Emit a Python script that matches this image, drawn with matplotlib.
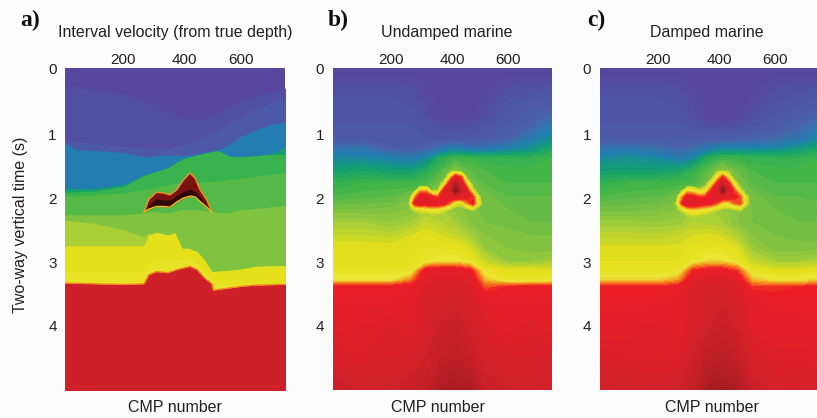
import numpy as np
import matplotlib
matplotlib.use("Agg")
import matplotlib.pyplot as plt
from matplotlib.colors import LinearSegmentedColormap, Normalize

W, H = 817, 418
BG = '#fdfdfe'
plt.rcParams['font.family'] = ['Liberation Sans', 'DejaVu Sans']

# velocity (km/s) -> colour
VEL_NODES = [1.5, 1.55, 1.65, 1.85, 2.1, 2.3, 2.5, 2.65, 2.85, 3.05, 3.2, 3.35, 3.55, 3.9, 4.3, 5.0]
VEL_COLORS = ['#57479f', '#57479f', '#4f52a4', '#4a62ab', '#2080b0', '#12a070', '#3eb54a', '#6cbd45',
              '#a3cd39', '#e5e01a', '#ece638', '#f7941d', '#ed1c24', '#d4212a', '#a81c20', '#3a0808']

# panel a: (cmp picks, time picks, velocity below that horizon), top to bottom
H_CMP = [0, 100, 200, 270, 350, 400, 450, 500, 550, 600, 650, 700, 750]
H1 = [.26, .34, .41, .49, .67, .78, .79, .75, .62, .49, .44, .36, .31]
H2 = [1.11, 1.17, 1.22, 1.24, 1.24, 1.19, 1.11, 1.01, .88, .75, .62, .54, .44]
H3_CMP = [0, 40, 100, 200, 270, 350, 400, 450, 520, 550, 600, 650, 700, 750]
H3 = [1.16, 1.27, 1.28, 1.31, 1.38, 1.35, 1.36, 1.33, 1.27, 1.22, 1.06, .96, .88, .83]
H4_CMP = [0, 100, 200, 270, 350, 400, 450, 520, 560, 600, 650, 700, 750]
H4 = [1.87, 1.87, 1.81, 1.66, 1.55, 1.41, 1.35, 1.28, 1.37, 1.38, 1.36, 1.33, 1.23]
H5 = [1.93, 1.91, 1.84, 1.67, 1.55, 1.41, 1.35, 1.28, 1.37, 1.38, 1.36, 1.34, 1.34]
H6_CMP = [0, 100, 200, 270, 350, 400, 450, 550, 650, 750]
H6 = [1.99, 1.97, 1.94, 1.89, 1.81, 1.78, 1.78, 1.74, 1.68, 1.62]
H7_CMP = [0, 100, 200, 270, 300, 350, 400, 450, 500, 550, 600, 650, 750]
H7 = [2.28, 2.28, 2.28, 2.25, 2.23, 2.25, 2.20, 2.20, 2.23, 2.25, 2.20, 2.18, 2.14]
H8_CMP = [0, 100, 200, 270, 286, 400, 420, 450, 475, 500, 550, 600, 650, 700, 750]
H8 = [2.36, 2.41, 2.51, 2.62, 2.56, 2.80, 2.80, 2.85, 2.98, 3.16, 3.145, 3.12, 3.08, 3.07, 3.07]
H9_CMP = [0, 200, 270, 286, 312, 350, 375, 400, 420, 450, 475, 500, 550, 600, 650, 700, 750]
H9 = [2.76, 2.76, 2.76, 2.59, 2.55, 2.59, 2.56, 2.80, 2.80, 2.85, 2.98, 3.16, 3.145, 3.12, 3.08, 3.07, 3.07]
H10_CMP = [0, 200, 270, 286, 312, 350, 400, 426, 460, 500, 550, 750]
H10 = [3.16, 3.16, 3.145, 3.03, 2.98, 3.0, 2.95, 2.93, 3.08, 3.29, 3.34, 3.34]
H11_CMP = [0, 100, 200, 270, 286, 312, 350, 381, 426, 450, 475, 500, 505, 550, 600, 650, 750]
H11 = [3.34, 3.35, 3.36, 3.35, 3.21, 3.16, 3.18, 3.13, 3.08, 3.13, 3.26, 3.35, 3.45, 3.42, 3.39, 3.37, 3.36]
LAYERS = [(H_CMP, H1, 1.62), (H_CMP, H2, 1.72), (H3_CMP, H3, 2.08), (H4_CMP, H4, 2.3),
          (H4_CMP, H5, 2.48), (H6_CMP, H6, 2.58), (H7_CMP, H7, 2.72), (H8_CMP, H8, 2.87),
          (H9_CMP, H9, 3.05), (H10_CMP, H10, 3.12), (H11_CMP, H11, 3.95)]
TOP_VEL = 1.5

SALT_CMP = [270, 286, 312, 335, 358, 381, 403, 426, 443, 460, 483, 500]
SALT_TOP = [2.24, 2.04, 1.93, 1.94, 1.97, 1.89, 1.74, 1.63, 1.71, 1.89, 2.05, 2.24]
SALT_MID = [2.24, 2.13, 2.03, 2.05, 2.05, 1.98, 1.92, 1.88, 1.92, 2.00, 2.13, 2.24]
SALT_BASE = [2.24, 2.19, 2.15, 2.15, 2.16, 2.08, 2.02, 1.99, 2.00, 2.07, 2.16, 2.24]

# panels b, c: background velocity read at these stations
GRID_CMP = [0, 100, 200, 270, 320, 370, 420, 470, 520, 600, 680, 750]
GRID_T = [0, .3, .6, .75, .9, 1.1, 1.25, 1.4, 1.6, 1.8, 2.0, 2.2, 2.4, 2.6, 2.8, 3.0, 3.15, 3.3, 3.4, 3.6, 4.0, 4.5, 5.0]
VEL_B = [
    [1.5, 1.5, 1.5, 1.5, 1.5, 1.5, 1.5, 1.5, 1.5, 1.5, 1.5, 1.5],
    [1.62, 1.62, 1.62, 1.6, 1.55, 1.5, 1.5, 1.5, 1.52, 1.6, 1.62, 1.65],
    [1.68, 1.68, 1.68, 1.65, 1.6, 1.53, 1.5, 1.5, 1.58, 1.68, 1.75, 1.78],
    [1.7, 1.7, 1.7, 1.68, 1.62, 1.52, 1.5, 1.52, 1.6, 1.72, 1.8, 1.92],
    [1.7, 1.7, 1.7, 1.7, 1.68, 1.62, 1.6, 1.62, 1.68, 1.75, 1.85, 2.05],
    [1.72, 1.72, 1.72, 1.72, 1.7, 1.7, 1.72, 1.72, 1.75, 1.85, 2.05, 2.2],
    [2.0, 2.0, 1.8, 1.8, 1.85, 2.0, 2.1, 2.0, 2.0, 2.1, 2.2, 2.35],
    [2.15, 2.15, 2.1, 2.05, 2.15, 2.4, 2.5, 2.5, 2.45, 2.45, 2.45, 2.5],
    [2.3, 2.35, 2.3, 2.3, 2.4, 2.55, 2.75, 2.6, 2.55, 2.52, 2.52, 2.52],
    [2.45, 2.5, 2.5, 2.5, 2.55, 2.68, 2.8, 2.7, 2.6, 2.55, 2.55, 2.55],
    [2.55, 2.58, 2.6, 2.68, 2.75, 2.8, 2.8, 2.75, 2.68, 2.6, 2.6, 2.6],
    [2.7, 2.7, 2.72, 2.76, 2.85, 2.85, 2.78, 2.72, 2.68, 2.65, 2.62, 2.62],
    [2.85, 2.85, 2.8, 2.85, 2.95, 2.9, 2.85, 2.75, 2.7, 2.68, 2.65, 2.65],
    [2.95, 2.95, 2.92, 3.0, 3.05, 3.0, 2.95, 2.85, 2.75, 2.72, 2.7, 2.7],
    [3.05, 3.05, 3.05, 3.05, 3.1, 3.1, 3.08, 3.02, 2.8, 2.75, 2.72, 2.72],
    [3.08, 3.08, 3.08, 3.08, 3.12, 3.2, 3.2, 3.1, 2.95, 2.8, 2.8, 2.85],
    [3.1, 3.1, 3.1, 3.12, 3.65, 3.7, 3.7, 3.6, 3.12, 3.05, 3.05, 3.05],
    [3.2, 3.2, 3.2, 3.4, 3.75, 3.8, 3.8, 3.75, 3.3, 3.12, 3.12, 3.15],
    [3.6, 3.6, 3.6, 3.65, 3.8, 3.85, 3.85, 3.8, 3.45, 3.55, 3.6, 3.6],
    [3.65, 3.65, 3.65, 3.7, 3.85, 3.9, 3.9, 3.85, 3.7, 3.65, 3.65, 3.65],
    [3.7, 3.75, 3.8, 3.75, 3.85, 3.95, 4.0, 3.92, 3.8, 3.72, 3.78, 3.7],
    [3.85, 3.8, 3.85, 3.85, 3.95, 4.05, 4.1, 4.02, 3.9, 3.85, 3.85, 3.85],
    [4.0, 3.95, 3.95, 4.0, 4.05, 4.25, 4.3, 4.25, 4.0, 3.95, 3.95, 3.9],
]
VEL_C = [
    [1.5, 1.5, 1.5, 1.5, 1.5, 1.5, 1.5, 1.5, 1.5, 1.5, 1.5, 1.5],
    [1.62, 1.62, 1.62, 1.6, 1.55, 1.5, 1.5, 1.5, 1.52, 1.6, 1.62, 1.65],
    [1.68, 1.68, 1.68, 1.65, 1.6, 1.53, 1.5, 1.5, 1.58, 1.66, 1.7, 1.75],
    [1.7, 1.7, 1.7, 1.68, 1.62, 1.52, 1.5, 1.52, 1.62, 1.7, 1.78, 1.88],
    [1.7, 1.7, 1.7, 1.7, 1.68, 1.62, 1.6, 1.62, 1.68, 1.75, 1.85, 2.0],
    [1.78, 1.75, 1.75, 1.78, 1.75, 1.78, 1.8, 1.8, 1.85, 1.9, 2.0, 2.15],
    [2.0, 2.0, 1.95, 1.85, 1.95, 2.05, 2.15, 2.15, 2.15, 2.15, 2.25, 2.35],
    [2.15, 2.2, 2.15, 2.05, 2.15, 2.4, 2.5, 2.5, 2.45, 2.45, 2.45, 2.5],
    [2.3, 2.3, 2.3, 2.35, 2.45, 2.6, 2.8, 2.65, 2.55, 2.52, 2.52, 2.52],
    [2.45, 2.5, 2.5, 2.52, 2.55, 2.7, 2.85, 2.72, 2.6, 2.55, 2.55, 2.55],
    [2.55, 2.58, 2.6, 2.68, 2.78, 2.82, 2.82, 2.78, 2.68, 2.6, 2.6, 2.58],
    [2.68, 2.68, 2.7, 2.76, 2.88, 2.86, 2.82, 2.76, 2.7, 2.65, 2.65, 2.62],
    [2.82, 2.82, 2.8, 2.82, 2.9, 2.88, 2.85, 2.75, 2.7, 2.68, 2.65, 2.65],
    [2.92, 2.92, 2.92, 2.95, 3.0, 3.02, 2.98, 2.88, 2.75, 2.7, 2.68, 2.68],
    [3.02, 3.02, 3.02, 3.02, 3.08, 3.1, 3.1, 3.03, 2.82, 2.72, 2.72, 2.72],
    [3.05, 3.05, 3.05, 3.05, 3.12, 3.22, 3.22, 3.12, 2.95, 2.85, 2.85, 2.88],
    [3.08, 3.08, 3.08, 3.12, 3.55, 3.62, 3.62, 3.5, 3.1, 3.05, 3.05, 3.08],
    [3.25, 3.25, 3.25, 3.35, 3.72, 3.8, 3.8, 3.72, 3.3, 3.2, 3.2, 3.25],
    [3.55, 3.55, 3.55, 3.6, 3.8, 3.85, 3.9, 3.8, 3.5, 3.5, 3.55, 3.55],
    [3.62, 3.62, 3.62, 3.68, 3.85, 3.9, 3.92, 3.88, 3.7, 3.62, 3.62, 3.62],
    [3.68, 3.72, 3.78, 3.7, 3.85, 3.92, 4.0, 3.92, 3.72, 3.68, 3.68, 3.65],
    [3.85, 3.78, 3.78, 3.8, 3.95, 4.08, 4.12, 4.05, 3.85, 3.78, 3.78, 3.75],
    [3.95, 3.95, 3.9, 3.95, 4.05, 4.28, 4.32, 4.26, 4.0, 3.9, 3.9, 3.85],
]

# salt body velocity on a finer patch; below 2.9 the background shows through
SALT_GRID_CMP = [260, 280, 300, 320, 340, 360, 380, 400, 420, 440, 460, 480, 500, 520]
SALT_GRID_T = [1.6, 1.7, 1.8, 1.9, 2.0, 2.1, 2.2, 2.3]
SALT_B = [
    [2.7, 2.7, 2.7, 2.7, 2.7, 2.7, 2.7, 2.8, 3.0, 2.85, 2.7, 2.7, 2.7, 2.7],
    [2.7, 2.7, 2.7, 2.7, 2.7, 2.7, 2.75, 3.2, 3.7, 3.5, 2.85, 2.7, 2.7, 2.7],
    [2.7, 2.7, 2.7, 2.7, 2.7, 2.75, 3.05, 3.65, 4.2, 3.8, 3.2, 2.8, 2.7, 2.7],
    [2.7, 2.8, 3.3, 3.3, 2.85, 2.9, 3.6, 3.8, 4.5, 4.0, 3.6, 3.0, 2.75, 2.7],
    [2.7, 3.3, 3.7, 3.7, 3.55, 3.45, 3.7, 3.75, 3.8, 3.75, 3.65, 3.5, 2.95, 2.7],
    [2.85, 3.6, 3.75, 3.7, 3.75, 3.7, 3.65, 3.4, 3.05, 3.0, 3.35, 3.6, 3.05, 2.75],
    [2.8, 3.0, 3.05, 3.1, 3.15, 3.15, 3.0, 2.9, 2.8, 2.8, 2.85, 2.95, 2.8, 2.7],
    [2.7, 2.7, 2.8, 2.7, 2.85, 2.85, 2.8, 2.7, 2.7, 2.7, 2.7, 2.7, 2.7, 2.7],
]
SALT_C = [
    [2.7, 2.7, 2.7, 2.7, 2.7, 2.7, 2.7, 2.85, 3.0, 2.85, 2.7, 2.7, 2.7, 2.7],
    [2.7, 2.7, 2.7, 2.7, 2.7, 2.7, 2.8, 3.15, 3.55, 3.2, 2.8, 2.7, 2.7, 2.7],
    [2.7, 2.7, 2.7, 2.7, 2.7, 2.8, 3.1, 3.55, 3.95, 3.6, 3.1, 2.8, 2.7, 2.7],
    [2.7, 2.85, 3.2, 3.15, 2.95, 3.05, 3.5, 3.7, 4.5, 3.8, 3.45, 3.0, 2.75, 2.7],
    [2.75, 3.3, 3.65, 3.6, 3.5, 3.5, 3.65, 3.7, 3.75, 3.7, 3.6, 3.45, 3.0, 2.75],
    [2.9, 3.5, 3.8, 3.75, 3.7, 3.65, 3.6, 3.45, 3.2, 3.2, 3.4, 3.5, 3.0, 2.75],
    [2.8, 3.0, 3.2, 3.25, 3.2, 3.15, 3.05, 2.95, 2.85, 2.85, 2.9, 2.95, 2.8, 2.7],
    [2.7, 2.7, 2.85, 2.95, 2.9, 2.85, 2.75, 2.7, 2.7, 2.7, 2.7, 2.7, 2.7, 2.7],
]

XTICK_POS = [200, 408, 600]
XTICK_LABELS = ['200', '400', '600']
YTICK_POS = [0, 1.03, 2.02, 3.02, 4.0]
YTICK_LABELS = ['0', '1', '2', '3', '4']

norm = Normalize(VEL_NODES[0], VEL_NODES[-1])
cmap = LinearSegmentedColormap.from_list('vel', [(norm(v), c) for v, c in zip(VEL_NODES, VEL_COLORS)], N=512)
levels = np.linspace(1.5, 5.0, 71)
salt_levels = levels[levels >= 2.9]


def pxaxes(fig, left, right, cmp_min=0, cmp_max=750):
    ax = fig.add_axes([left/W, 1-390/H, (right-left)/W, (390-68)/H])
    ax.set_xlim(cmp_min, cmp_max)
    ax.set_ylim(5, 0)
    ax.xaxis.tick_top()
    ax.set_xticks(XTICK_POS, XTICK_LABELS)
    ax.set_yticks(YTICK_POS, YTICK_LABELS)
    ax.tick_params(length=0, labelsize=11, colors='#231f20')
    ax.tick_params(axis='x', pad=1)
    ax.tick_params(axis='y', pad=6)
    for s in ax.spines.values():
        s.set_visible(False)
    return ax


def label(fig, x, y, s, **kw):
    kw.setdefault('fontsize', 11.5)
    kw.setdefault('color', '#231f20')
    fig.text(x/W, 1-y/H, s, ha='center', va='center', **kw)


fig = plt.figure(figsize=(W/100, H/100), dpi=100, facecolor=BG)

# a) layered model
ax = pxaxes(fig, 65, 285, cmp_min=2, cmp_max=748)
ax.set_facecolor(cmap(norm(TOP_VEL)))
for x, t, v in LAYERS:
    ax.fill_between(x, t, 6, color=cmap(norm(v)), lw=0)
ax.plot(H11_CMP, H11, color='#f58220', lw=0.9)
ax.fill_between(SALT_CMP, SALT_TOP, SALT_BASE, color='#2e0808', lw=0)
ax.fill_between(SALT_CMP, SALT_TOP, SALT_MID, color='#7a1212', lw=0)
ax.plot(SALT_CMP, SALT_TOP, color='#f7941d', lw=1.0)
ax.plot(SALT_CMP, SALT_BASE, color='#f7b21d', lw=1.0)

# b) undamped, c) damped
ax = pxaxes(fig, 332.5, 552)
ax.contourf(GRID_CMP, GRID_T, np.array(VEL_B), levels=levels, cmap=cmap, norm=norm)
ax.contourf(SALT_GRID_CMP, SALT_GRID_T, np.array(SALT_B), levels=salt_levels, cmap=cmap, norm=norm)
ax = pxaxes(fig, 599.5, 817, cmp_max=742)
ax.contourf(GRID_CMP, GRID_T, np.array(VEL_C), levels=levels, cmap=cmap, norm=norm)
ax.contourf(SALT_GRID_CMP, SALT_GRID_T, np.array(SALT_C), levels=salt_levels, cmap=cmap, norm=norm)

label(fig, 175, 32, 'Interval velocity (from true depth)')
label(fig, 447, 32, 'Undamped marine')
label(fig, 707, 32, 'Damped marine')
label(fig, 175, 408, 'CMP number')
label(fig, 438, 408, 'CMP number')
label(fig, 712, 408, 'CMP number')
label(fig, 21, 225, 'Two-way vertical time (s)', rotation=90)
for x, s in [(30, 'a)'), (338, 'b)'), (596, 'c)')]:
    fig.text(x/W, 1-20/H, s, ha='center', va='center', fontsize=17, fontweight='bold',
             family=['Liberation Serif'], color='#111111')

fig.savefig('out.png', dpi=100, facecolor=BG)
